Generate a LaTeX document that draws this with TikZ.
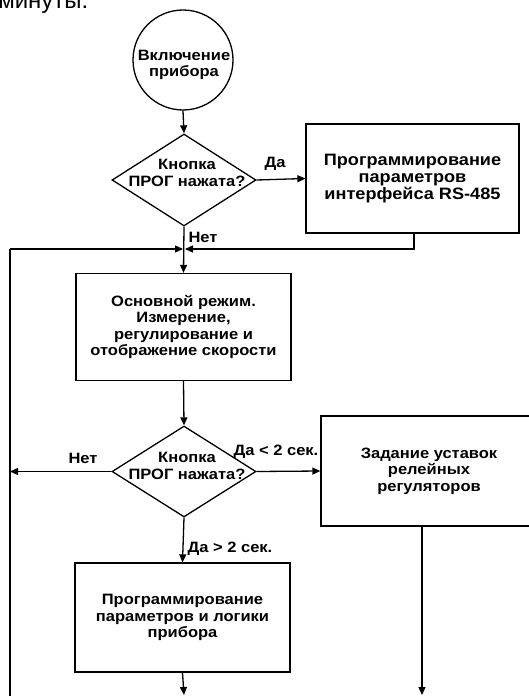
\documentclass[tikz,border=0pt]{standalone}
\usepackage{fontspec}
\setmainfont{Liberation Sans}
\newfontfamily\boxfont[FakeStretch=1.1]{Liberation Sans Bold}
\usetikzlibrary{shapes.geometric,arrows.meta}
\begin{document}
\begin{tikzpicture}[x=1pt,y=-1pt,
  line width=1.3pt,
  every node/.style={font=\boxfont\fontsize{15}{16.5}\selectfont, align=center, inner sep=0pt},
  bigtext/.style={font=\boxfont\fontsize{16.5}{16.8}\selectfont},
  blk/.style={draw, rectangle, minimum width=215pt, minimum height=108pt},
  dia/.style={draw, diamond, minimum width=144pt, minimum height=92pt},
  startc/.style={draw, circle, minimum size=100pt},
  arr/.style={-{Triangle[length=8pt,width=7pt]}}]
\useasboundingbox (0,0) rectangle (529,696);
\clip (0,0) rectangle (529,696);
\node[font=\fontsize{24}{26}\selectfont, anchor=base east] (top) at (89,9) {минуты.};
\node[startc] (c) at (183,60) {};
\node (ct) at (184,65) {Включение\\прибора};
\node[dia] (d1) at (184,180) {};
\node (d1t) at (187,173) {Кнопка\\ПРОГ нажата?};
\node[blk, bigtext, minimum width=213pt, minimum height=109pt] (b1) at (412.5,178.5) {Программирование\\параметров\\интерфейса RS-485};
\coordinate (j) at (184,249);
\coordinate (lt) at (10,249);
\coordinate (lb) at (10,700);
\node[blk, minimum height=107pt] (b2) at (183.5,327) {Основной режим.\\Измерение,\\регулирование и\\отображение скорости};
\node[dia, minimum height=91pt] (d2) at (184,471.5) {};
\node (d2t) at (187,466) {Кнопка\\ПРОГ нажата?};
\node[blk, minimum width=216pt, minimum height=110pt] (b3) at (429,471) {Задание уставок\\релейных\\регуляторов};
\node[blk, minimum height=109pt] (b4) at (182.5,617.5) {Программирование\\параметров и логики\\прибора};
\coordinate (e4) at (184,695);
\coordinate (e3) at (422,695);
% connectors
\draw[arr] (c.south) -- (d1.north);
\draw[arr] (d1.east) -- (b1.west);
\draw[arr] (d1.south) -- (b2.north);
\draw[arr] (b1.south -| 414,0) -- (414,249) -- ([xshift=1pt]j);
\draw[arr] (lt) -- ([xshift=-1pt]j);
\draw (lt) -- (lb);
\draw[arr] (b2.south) -- (d2.north);
\draw[arr] (d2.west) -- (d2.west -| lt);
\draw[arr] (d2.east) -- (b3.west);
\draw[arr] (d2.south) -- (b4.north);
\draw[arr] (b4.south) -- (e4);
\draw[arr] (b3.south -| e3) -- (e3);
% labels
\node (l1) at (275,164) {Да};
\node (l2) at (203,237) {Нет};
\node (l3) at (276,452) {Да < 2 сек.};
\node (l4) at (83,458) {Нет};
\node (l5) at (230,549) {Да > 2 сек.};
\end{tikzpicture}
\end{document}
